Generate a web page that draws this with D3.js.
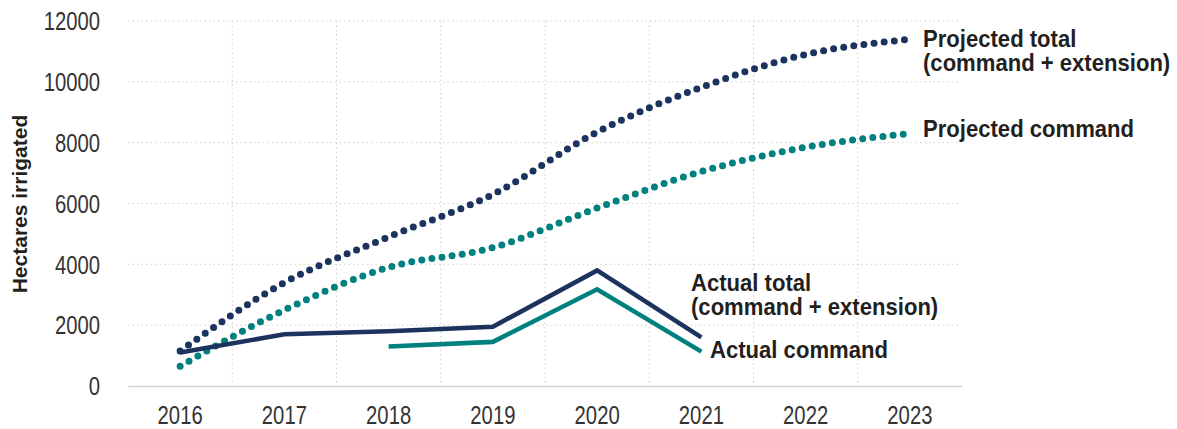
<!DOCTYPE html>
<html>
<head>
<meta charset="utf-8">
<script src="https://cdn.jsdelivr.net/npm/d3@7"></script>
<style>
  html, body { margin: 0; padding: 0; background: #fff; }
  svg { display: block; font-family: "Liberation Sans", Arial, sans-serif; }
</style>
</head>
<body>
<svg id="chart" width="1177" height="429"></svg>
<script>
const years = ["2016", "2017", "2018", "2019", "2020", "2021", "2022", "2023"];
const projectedTotal = [1150, 3400, 4900, 6300, 8350, 9820, 10900, 11400];
const projectedCommand = [650, 2500, 3900, 4550, 5850, 7050, 7850, 8300];
const actualTotal = [1100, 1700, 1800, 1950, 3800, 1600, null, null];
const actualCommand = [null, null, 1300, 1450, 3180, 1130, null, null];
const yTicks = [0, 2000, 4000, 6000, 8000, 10000, 12000];
const yTitle = "Hectares irrigated";
const seriesLabels = {
  projectedTotal: ["Projected total", "(command + extension)"],
  projectedCommand: ["Projected command"],
  actualTotal: ["Actual total", "(command + extension)"],
  actualCommand: ["Actual command"]
};

const NAVY = "#1b335e";
const TEAL = "#00807e";
const TEXT = "#231f20";

const svg = d3.select("#chart");
const pLeft = 128, pRight = 962, pTop = 21, pBottom = 386;

const x = d3.scaleBand().domain(years).range([pLeft, pRight]).padding(0);
const y = d3.scaleLinear().domain([0, 12000]).range([pBottom, pTop]);
const cx = d => x(d) + x.bandwidth() / 2;

function condense(sel, f) {
  sel.each(function () {
    const w = this.getComputedTextLength();
    d3.select(this).attr("textLength", w * f).attr("lengthAdjust", "spacingAndGlyphs");
  });
}

// horizontal gridlines
svg.append("g")
  .selectAll("line")
  .data(yTicks.filter(t => t > 0))
  .join("line")
  .attr("x1", pLeft).attr("x2", 958)
  .attr("y1", d => y(d)).attr("y2", d => y(d))
  .attr("stroke", "#cfcfcf").attr("stroke-width", 1)
  .attr("stroke-dasharray", "1.5,3");

// vertical gridlines at band boundaries
svg.append("g")
  .selectAll("line")
  .data(years.slice(1))
  .join("line")
  .attr("x1", d => x(d)).attr("x2", d => x(d))
  .attr("y1", pTop).attr("y2", pBottom)
  .attr("stroke", "#cfcfcf").attr("stroke-width", 1)
  .attr("stroke-dasharray", "1.5,3");

// x axis
const xAxis = svg.append("g")
  .attr("transform", `translate(0,${pBottom})`)
  .call(d3.axisBottom(x).tickSize(0).tickPadding(0));
xAxis.select(".domain").attr("stroke", "#d4d4d4").attr("stroke-width", 1.5);
const xt = xAxis.selectAll("text")
  .attr("font-size", 25).attr("fill", "#333")
  .attr("font-family", "inherit")
  .attr("y", 38).attr("dy", 0);
condense(xt, 0.81);

// y axis
const yAxis = svg.append("g")
  .attr("transform", `translate(100,0)`)
  .call(d3.axisLeft(y).tickValues(yTicks).tickFormat(d3.format("d")).tickSize(0).tickPadding(0));
yAxis.select(".domain").remove();
const yt = yAxis.selectAll("text")
  .attr("font-size", 25).attr("fill", "#333")
  .attr("font-family", "inherit")
  .attr("dy", "0.35em");
condense(yt, 0.81);

// y title
svg.append("text")
  .attr("transform", `translate(27,204) rotate(-90)`)
  .attr("text-anchor", "middle")
  .attr("font-size", 21).attr("font-weight", "bold").attr("fill", TEXT)
  .text(yTitle);

// lines
const smooth = d3.line()
  .defined(d => d.v != null)
  .x(d => cx(d.year)).y(d => y(d.v))
  .curve(d3.curveMonotoneX);
const straight = d3.line()
  .defined(d => d.v != null)
  .x(d => cx(d.year)).y(d => y(d.v));
const pts = arr => years.map((yr, i) => ({ year: yr, v: arr[i] }));

svg.append("path").datum(pts(projectedCommand))
  .attr("d", smooth).attr("fill", "none")
  .attr("stroke", TEAL).attr("stroke-width", 7)
  .attr("stroke-linecap", "round").attr("stroke-dasharray", "0,10.2");
svg.append("path").datum(pts(projectedTotal))
  .attr("d", smooth).attr("fill", "none")
  .attr("stroke", NAVY).attr("stroke-width", 7)
  .attr("stroke-linecap", "round").attr("stroke-dasharray", "0,10.2");
svg.append("path").datum(pts(actualCommand))
  .attr("d", straight).attr("fill", "none")
  .attr("stroke", TEAL).attr("stroke-width", 4.6)
  .attr("stroke-linejoin", "miter");
svg.append("path").datum(pts(actualTotal))
  .attr("d", straight).attr("fill", "none")
  .attr("stroke", NAVY).attr("stroke-width", 4.6)
  .attr("stroke-linejoin", "miter");

// labels
function label(lines, x0, y0) {
  const t = svg.append("text")
    .attr("font-size", 24).attr("font-weight", "bold").attr("fill", TEXT);
  lines.forEach((ln, i) => {
    t.append("tspan").attr("x", x0).attr("y", y0 + i * 23.5).text(ln);
  });
  condense(t.selectAll("tspan"), 0.92);
  return t;
}
label(seriesLabels.projectedTotal, 923, 47);
label(seriesLabels.projectedCommand, 923, 137);
label(seriesLabels.actualTotal, 691, 291);
label(seriesLabels.actualCommand, 710, 358);
</script>
</body>
</html>
